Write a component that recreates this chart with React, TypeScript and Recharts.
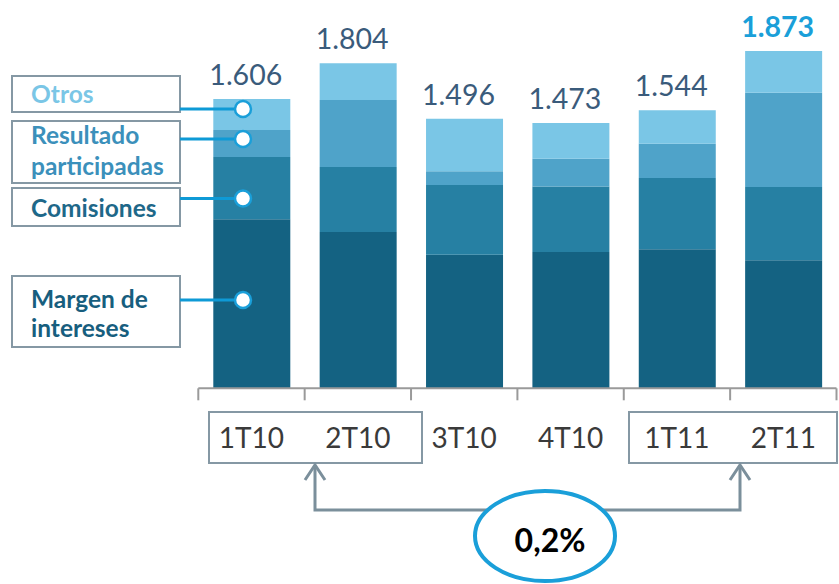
import React from "react";
import { BarChart, Bar, XAxis, YAxis, LabelList } from "recharts";

if (typeof document !== "undefined") document.body.style.margin = "0";

const quarters = ["1T10", "2T10", "3T10", "4T10", "1T11", "2T11"];
const margenIntereses = [939, 867, 742, 757, 772, 711];
const comisiones = [345, 361, 387, 363, 396, 406];
const resultadoParticipadas = [150, 372, 76, 154, 189, 524];
const otros = [172, 204, 291, 199, 187, 232];
const totals = ["1.606", "1.804", "1.496", "1.473", "1.544", "1.873"];
const variation = "0,2%";

const data = quarters.map((q, i) => ({
  q,
  margen: margenIntereses[i],
  comisiones: comisiones[i],
  resultado: resultadoParticipadas[i],
  otros: otros[i],
  total: totals[i],
}));

const FONT = "Lato, 'Open Sans', sans-serif";
const C_MARGEN = "#146282";
const C_COMIS = "#2680a3";
const C_RESULT = "#4fa3c9";
const C_OTROS = "#7ac6e6";
const BOX = "#8598a4";

const QuarterTick = (props: any) => {
  const { x, y, payload, index } = props;
  const half = payload && payload.offset ? payload.offset : 53.2;
  return (
    <g>
      <line x1={x - half} x2={x - half} y1={y} y2={y + 12} stroke="#9a9a9a" strokeWidth={2} />
      {index === quarters.length - 1 && (
        <line x1={x + half} x2={x + half} y1={y} y2={y + 12} stroke="#9a9a9a" strokeWidth={2} />
      )}
      <text x={x} y={y + 60} textAnchor="middle" fontSize={28} fill="#3a3a3a" fontFamily={FONT}>
        {payload.value}
      </text>
    </g>
  );
};

const TotalLabel = (props: any) => {
  const { x, y, width, value, index } = props;
  const last = index === totals.length - 1 || value === totals[totals.length - 1];
  return (
    <text
      x={x + width / 2 - 6}
      y={y - 14}
      textAnchor="middle"
      fontSize={28.5}
      fontWeight={last ? 700 : 400}
      fill={last ? "#1a9fd9" : "#3a5b7b"}
      fontFamily={FONT}
    >
      {value}
    </text>
  );
};

// legend boxes and connectors on the left, bracket + arrows below
const Overlay = () => (
  <svg width={839} height={584} style={{ position: "absolute", left: 0, top: 0, pointerEvents: "none" }}>
    <g fill="none" stroke={BOX} strokeWidth={2}>
      <rect x={12} y={76} width={168} height={36} />
      <rect x={12} y={121} width={168} height={62} />
      <rect x={12} y={188} width={168} height={38} />
      <rect x={12} y={276} width={168} height={71} />
    </g>
    <g fontFamily={FONT} fontWeight={700} fontSize={24.5}>
      <text x={31} y={103} fill={C_OTROS}>Otros</text>
      <text x={31} y={144} fill="#3b90bb">Resultado</text>
      <text x={31} y={175} fill="#3b90bb">participadas</text>
      <text x={31} y={217} fill="#1e6889">Comisiones</text>
      <text x={31} y={308} fill="#175e7e">Margen de</text>
      <text x={31} y={337} fill="#175e7e">intereses</text>
    </g>
    <g stroke="#0e9ad6" strokeWidth={3}>
      <line x1={180} x2={243} y1={109} y2={109} />
      <line x1={180} x2={243} y1={139} y2={139} />
      <line x1={180} x2={243} y1={198.5} y2={198.5} />
      <line x1={180} x2={243} y1={300} y2={300} />
    </g>
    <g fill="#fff" stroke="#1a9fd9" strokeWidth={2.5}>
      <circle cx={243} cy={109} r={8} />
      <circle cx={243} cy={139} r={8} />
      <circle cx={243} cy={198.5} r={8} />
      <circle cx={243} cy={300} r={8} />
    </g>
    <g fill="none" stroke={BOX} strokeWidth={2}>
      <rect x={209} y={412} width={213} height={51} />
      <rect x={629} y={412} width={208} height={51} />
    </g>
    <g fill="none" stroke="#7b8f9b" strokeWidth={3}>
      <polyline points="315,465 315,510 740,510 740,465" />
      <polyline points="305,480 315,465 325,480" />
      <polyline points="730,480 740,465 750,480" />
    </g>
    <ellipse cx={545} cy={536} rx={70} ry={45} fill="#fff" stroke="#1a9fd9" strokeWidth={4} />
    <text x={550} y={552} textAnchor="middle" fontSize={32} fontWeight={700} fill="#000" fontFamily={FONT}>
      {variation}
    </text>
  </svg>
);

export default function App() {
  return (
    <div style={{ position: "relative", width: 839, height: 584, background: "#fff" }}>
      <BarChart
        width={839}
        height={584}
        data={data}
        margin={{ top: 28, right: 2.5, bottom: 135.7, left: 198.3 }}
        barSize={77}
      >
        <YAxis hide domain={[0, 2000]} />
        <XAxis
          dataKey="q"
          height={60}
          axisLine={{ stroke: "#9a9a9a", strokeWidth: 2 }}
          tickLine={false}
          tickSize={0}
          tickMargin={0}
          interval={0}
          tick={<QuarterTick />}
        />
        <Bar dataKey="margen" stackId="a" fill={C_MARGEN} isAnimationActive={false} />
        <Bar dataKey="comisiones" stackId="a" fill={C_COMIS} isAnimationActive={false} />
        <Bar dataKey="resultado" stackId="a" fill={C_RESULT} isAnimationActive={false} />
        <Bar dataKey="otros" stackId="a" fill={C_OTROS} isAnimationActive={false}>
          <LabelList dataKey="total" content={<TotalLabel />} />
        </Bar>
      </BarChart>
      <Overlay />
    </div>
  );
}
